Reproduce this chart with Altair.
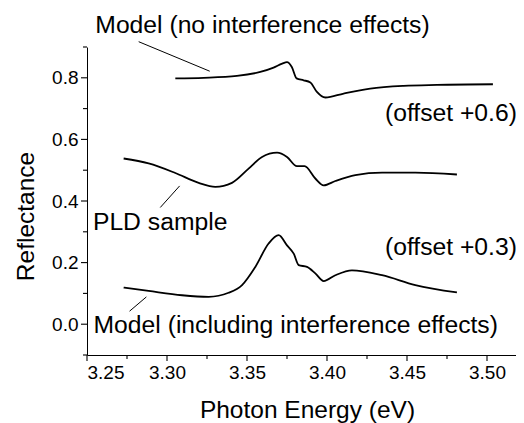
import altair as alt
import pandas as pd

# ---- data ----
top_x = [3.3052, 3.3229, 3.3437, 3.3583, 3.3666, 3.372, 3.375, 3.378, 3.381, 3.3854, 3.3896,
         3.3937, 3.399, 3.4104, 3.427, 3.4479, 3.4687, 3.5037]
top_y = [0.798, 0.800, 0.806, 0.819, 0.833, 0.846, 0.851, 0.835, 0.798, 0.792, 0.785,
         0.754, 0.736, 0.749, 0.765, 0.774, 0.777, 0.779]

mid_x = [3.2729, 3.2885, 3.3052, 3.3198, 3.3302, 3.3406, 3.351, 3.3594, 3.3688, 3.375,
         3.3812, 3.386, 3.3927, 3.3979, 3.4052, 3.4177, 3.4344, 3.4552, 3.4812]
mid_y = [0.538, 0.522, 0.491, 0.459, 0.446, 0.459, 0.505, 0.543, 0.557, 0.543,
         0.513, 0.513, 0.473, 0.451, 0.465, 0.484, 0.492, 0.492, 0.486]

bot_x = [3.2729, 3.2885, 3.3094, 3.326, 3.3385, 3.3469, 3.3552, 3.3635, 3.3698, 3.375,
         3.3792, 3.3823, 3.3875, 3.3927, 3.3979, 3.4052, 3.4156, 3.4344, 3.4552, 3.4812]
bot_y = [0.119, 0.108, 0.094, 0.089, 0.102, 0.127, 0.186, 0.262, 0.289, 0.256,
         0.229, 0.192, 0.186, 0.165, 0.140, 0.159, 0.175, 0.159, 0.127, 0.103]

x_major = [3.25, 3.30, 3.35, 3.40, 3.45, 3.50]
x_minor = [3.275, 3.325, 3.375, 3.425, 3.475]
y_major = [0.0, 0.2, 0.4, 0.6, 0.8]
y_minor = [-0.1, 0.1, 0.3, 0.5, 0.7, 0.9]

# annotations
left_labels = ["Model (no interference effects)", "PLD sample", "Model (including interference effects)"]
left_lx = [3.2552, 3.2537, 3.2541]
left_ly = [0.944, 0.305, -0.030]
right_labels = ["(offset +0.6)", "(offset +0.3)"]
right_lx = [3.5187, 3.5187]
right_ly = [0.659, 0.224]
lead_x1 = [3.2823, 3.2958, 3.2766]
lead_y1 = [0.9172, 0.3789, 0.0422]
lead_x2 = [3.3267, 3.3079, 3.2871]
lead_y2 = [0.8214, 0.4490, 0.0886]

# ---- tables ----
curves = pd.concat([
    pd.DataFrame({"E": top_x, "R": top_y, "s": "top"}),
    pd.DataFrame({"E": mid_x, "R": mid_y, "s": "mid"}),
    pd.DataFrame({"E": bot_x, "R": bot_y, "s": "bot"}),
])
leaders = pd.DataFrame({"x1": lead_x1, "y1": lead_y1, "x2": lead_x2, "y2": lead_y2})
ltxt = pd.DataFrame({"x": left_lx, "y": left_ly, "t": left_labels})
rtxt = pd.DataFrame({"x": right_lx, "y": right_ly, "t": right_labels})

W, H = 429, 308
XDOM = [3.25, 3.25 + W / 1600]
xs = alt.Scale(domain=XDOM, nice=False, zero=False)
ys = alt.Scale(domain=[-0.1, 0.9], nice=False, zero=False)
FONT = "Liberation Sans"

common = dict(ticks=False, labelFont=FONT, labelFontSize=19, labelColor="black",
              titleFont=FONT, titleFontSize=24.5, titleFontWeight="normal",
              titleColor="black", grid=False, domainColor="black", domainWidth=1,
              labelOverlap=False)

lines = alt.Chart(curves).mark_line(
    color="black", strokeWidth=1.8, interpolate="monotone"
).encode(
    x=alt.X("E:Q", scale=xs, axis=alt.Axis(
        values=x_major, format=".2f", orient="bottom", title="Photon Energy (eV)",
        labelPadding=8, titleX=220, titleY=62, titleBaseline="alphabetic",
        titleAlign="center", **common)),
    y=alt.Y("R:Q", scale=ys, axis=alt.Axis(
        values=y_major, format=".1f", orient="left", title="Reflectance",
        labelPadding=9, titleX=-54, titleY=169, titleBaseline="alphabetic",
        titleAlign="center", titleAngle=270, **common)),
    detail="s:N",
)

TICK_COLOR = "black"

# tick marks drawn from the tick arrays through the shared scales
def xticks(vals, length):
    return alt.Chart(pd.DataFrame({"v": vals})).mark_rule(color=TICK_COLOR, strokeWidth=1.1).encode(
        x=alt.X("v:Q", scale=xs), y=alt.value(H), y2=alt.value(H + length))

def yticks(vals, length):
    return alt.Chart(pd.DataFrame({"v": vals})).mark_rule(color=TICK_COLOR, strokeWidth=1.1).encode(
        y=alt.Y("v:Q", scale=ys), x=alt.value(0), x2=alt.value(-length))

rules = alt.Chart(leaders).mark_rule(color="black", strokeWidth=1).encode(
    x=alt.X("x1:Q", scale=xs),
    y=alt.Y("y1:Q", scale=ys),
    x2="x2:Q",
    y2="y2:Q",
)

ltext = alt.Chart(ltxt).mark_text(
    align="left", baseline="alphabetic", font=FONT, fontSize=24.7, color="black"
).encode(
    x=alt.X("x:Q", scale=xs),
    y=alt.Y("y:Q", scale=ys),
    text="t:N",
)
rtext = alt.Chart(rtxt).mark_text(
    align="right", baseline="alphabetic", font=FONT, fontSize=24.7, color="black"
).encode(
    x=alt.X("x:Q", scale=xs),
    y=alt.Y("y:Q", scale=ys),
    text="t:N",
)

chart = alt.layer(
    lines, xticks(x_major, 6), xticks(x_minor, 4), yticks(y_major, 6), yticks(y_minor, 4),
    rules, ltext, rtext
).properties(
    width=W, height=H,
    autosize=alt.AutoSizeParams(type="none"),
    padding={"left": 79, "top": 39, "right": 0, "bottom": 68},
).configure_view(stroke=None)

chart.save("out.html", embed_options={"renderer": "svg", "actions": False})
